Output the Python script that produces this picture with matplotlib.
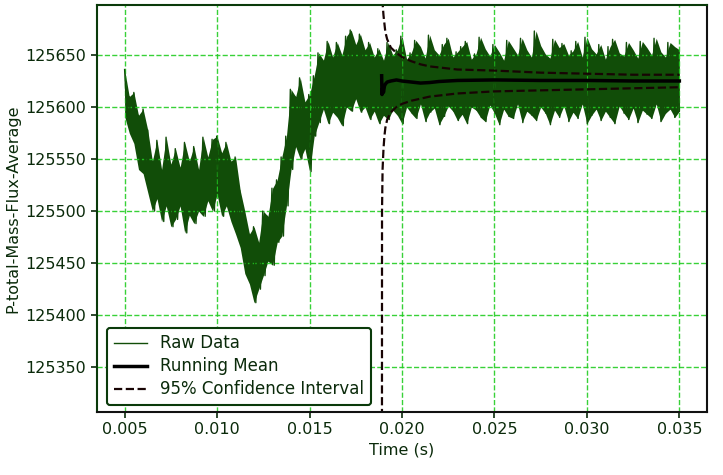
import numpy as np
import matplotlib
matplotlib.use('Agg')
import matplotlib.pyplot as plt

BASE = 125000
raw_peaks = [
    636, 610, 614, 592, 598, 578, 548, 568,
    540, 571, 545, 560, 542, 566, 548, 562,
    540, 571, 552, 569, 572, 556, 566, 548,
    552, 520, 500, 478, 485, 470, 500, 495,
    522, 530, 552, 572, 617, 610, 628, 605,
    612, 630, 652, 645, 663, 648, 662, 650,
    668, 674, 660, 670, 655, 662, 648, 656,
    645,
    662, 650, 655, 668, 646, 652, 664, 658,
    647, 669, 655, 650, 660, 666, 648, 653,
    658, 663, 646, 651, 667, 656, 649, 660,
    653, 645, 664, 657, 650, 666, 655, 648,
    673, 659, 651, 647, 665, 657, 661, 650,
    654, 663, 648, 667, 656, 651, 660, 646,
    658, 665, 652, 649, 662, 655, 647, 663,
    657, 650, 666, 653, 648, 662, 658, 655,
]
raw_troughs = [
    591, 575, 565, 540, 536, 518, 500, 512,
    490, 505, 485, 492, 505, 479, 496, 488,
    500, 495, 510, 500, 516, 495, 505, 490,
    478, 465, 440, 430, 412, 425, 438, 452,
    448, 470, 476, 505, 540, 562, 550, 560,
    538, 572, 585, 598, 584, 595, 590, 582,
    600, 596, 608, 595, 600, 588, 596, 584,
    592,
    588, 597, 592, 584, 600, 594, 589, 603,
    586, 595, 599, 583, 591, 601, 596, 587,
    593, 584, 600, 597, 590, 586, 602, 594,
    583, 598, 591, 589, 603, 585, 596, 592,
    587, 600, 594, 583, 597, 590, 601, 586,
    595, 589, 603, 584, 592, 598, 587, 596,
    590, 584, 601, 594, 588, 599, 585, 597,
    593, 589, 603, 586, 594, 598, 590, 596,
]
t_start, t_end = 0.005, 0.035

# running statistics from the steady-state start
stat_time = [0.0189, 0.01892, 0.01895, 0.0190, 0.01905, 0.0191, 0.0192, 0.0194,
             0.0197, 0.0200, 0.0205, 0.0210, 0.0215, 0.0220, 0.0230, 0.0250,
             0.0275, 0.0300, 0.0325, 0.0350]
run_mean = [125630, 125612, 125618, 125614, 125620, 125622, 125624, 125625,
            125626, 125625, 125624, 125623, 125623.5, 125624.5, 125625.5, 125626,
            125625.5, 125625.5, 125625, 125625]
ci_upper = [127000, 125760, 125700, 125688, 125680, 125672, 125665, 125657,
            125652, 125648, 125644, 125641, 125639, 125638, 125636, 125635,
            125633, 125632, 125631, 125631]
ci_lower = [124000, 125500, 125540, 125560, 125572, 125580, 125588, 125595,
            125600, 125603, 125606, 125608, 125610, 125611, 125613, 125615,
            125616, 125617, 125618, 125619]

peaks = BASE + np.array(raw_peaks, dtype=float)
troughs = BASE + np.array(raw_troughs, dtype=float)
env_t = np.linspace(t_start, t_end, len(peaks))
raw_vals = np.column_stack([peaks, troughs]).ravel()
raw_t = np.linspace(t_start, t_end, len(raw_vals))

txt = '#0a2a0a'
raw_col = '#114d08'
ci_col = '#180404'

fig = plt.figure(figsize=(7.23, 4.75), dpi=100)
ax = fig.add_axes([0.134, 0.1326, 0.844, 0.8569])

ax.fill_between(env_t, troughs, peaks, color=raw_col, lw=0)
ax.plot(raw_t, raw_vals, color=raw_col, lw=1.0, label='Raw Data')
ax.plot(stat_time, run_mean, color='black', lw=2.5, label='Running Mean')
ax.plot(stat_time, ci_upper, color=ci_col, ls='--', lw=1.6, label='95% Confidence Interval')
ax.plot(stat_time, ci_lower, color=ci_col, ls='--', lw=1.6)

ax.set_xlim(0.0035, 0.0365)
ax.set_ylim(125307, 125698)
ax.set_xticks([0.005, 0.010, 0.015, 0.020, 0.025, 0.030, 0.035])
ax.set_yticks([125350, 125400, 125450, 125500, 125550, 125600, 125650])
ax.set_xticklabels(['0.005', '0.010', '0.015', '0.020', '0.025', '0.030', '0.035'])

ax.grid(True, color='#22cc22', ls='--', lw=1.0, alpha=0.9)
ax.tick_params(colors=txt, labelsize=11.5, length=4, width=1.2)
for name, sp in ax.spines.items():
    sp.set_linewidth(1.5)
    sp.set_color('#0a3a0a' if name in ('left', 'top') else '#111111')

ax.set_xlabel('Time (s)', fontsize=11.5, color=txt)
ax.set_ylabel('P-total-Mass-Flux-Average', fontsize=11.5, color=txt, labelpad=4)

leg = ax.legend(loc='lower left', bbox_to_anchor=(0.0164, 0.0172), borderaxespad=0,
                fontsize=12, labelspacing=0.3, frameon=True, fancybox=True,
                framealpha=1.0)
leg.get_frame().set_edgecolor('#0a3a0a')
leg.get_frame().set_linewidth(1.5)
for t in leg.get_texts():
    t.set_color(txt)

fig.savefig('out.png', dpi=100)
